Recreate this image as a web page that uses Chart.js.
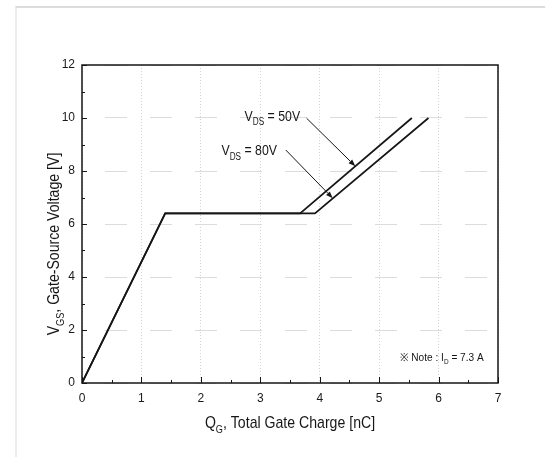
<!DOCTYPE html>
<html>
<head>
<meta charset="utf-8">
<script src="https://cdn.jsdelivr.net/npm/chart.js@4.4.1/dist/chart.umd.min.js"></script>
<style>
  html, body { margin: 0; padding: 0; background: #fff; }
  #wrap { position: relative; width: 545px; height: 457px; overflow: hidden; }
  #frame { position: absolute; left: 15px; top: 6px; right: 0; bottom: 0;
           border-top: 2px solid #dcdcdc; border-left: 2px solid #ececec; }
  #gatechart { position: absolute; left: 0; top: 0; }
</style>
</head>
<body>
<div id="wrap">
  <div id="frame"></div>
  <canvas id="gatechart" width="545" height="457"></canvas>
</div>
<script>
// gate charge curves, Q_G in nC and V_GS in V
const chargeNc50 = [0, 1.4, 3.67, 5.55];
const gateV50 = [0, 6.4, 6.4, 10];
const chargeNc80 = [0, 1.4, 3.92, 5.83];
const gateV80 = [0, 6.4, 6.4, 10];
const seriesNames = ['VDS = 50V', 'VDS = 80V'];
const xTicks = [0, 1, 2, 3, 4, 5, 6, 7];
const yTicks = [0, 2, 4, 6, 8, 10, 12];

const FONT = '"Liberation Sans", Arial, Helvetica, sans-serif';
const INK = '#161616';

function toPoints(xs, ys) {
    return xs.map((x, i) => ({x: x, y: ys[i]}));
}

// text with subscripts, condensed like the datasheet font
// parts: [[text, isSub], ...]
function drawRich(ctx, parts, x, y, size, squeeze, align, rotate) {
    const subSize = Math.round(size * 0.64);
    let w = 0;
    parts.forEach(p => {
        ctx.font = (p[1] ? subSize : size) + 'px ' + FONT;
        w += ctx.measureText(p[0]).width;
    });
    ctx.save();
    ctx.translate(x, y);
    if (rotate) ctx.rotate(-Math.PI / 2);
    ctx.scale(squeeze, 1);
    let cx = align === 'center' ? -w / 2 : (align === 'right' ? -w : 0);
    ctx.fillStyle = INK;
    ctx.textBaseline = 'alphabetic';
    ctx.textAlign = 'left';
    parts.forEach(p => {
        ctx.font = (p[1] ? subSize : size) + 'px ' + FONT;
        ctx.fillText(p[0], cx, p[1] ? size * 0.3 : 0);
        cx += ctx.measureText(p[0]).width;
    });
    ctx.restore();
}

function drawArrow(ctx, x1, y1, x2, y2) {
    const a = Math.atan2(y2 - y1, x2 - x1);
    const hl = 7, hw = 2.6;
    ctx.save();
    ctx.strokeStyle = INK;
    ctx.fillStyle = INK;
    ctx.lineWidth = 1;
    ctx.beginPath();
    ctx.moveTo(x1, y1);
    ctx.lineTo(x2 - hl * Math.cos(a), y2 - hl * Math.sin(a));
    ctx.stroke();
    ctx.beginPath();
    ctx.moveTo(x2, y2);
    ctx.lineTo(x2 - hl * Math.cos(a) + hw * Math.sin(a), y2 - hl * Math.sin(a) - hw * Math.cos(a));
    ctx.lineTo(x2 - hl * Math.cos(a) - hw * Math.sin(a), y2 - hl * Math.sin(a) + hw * Math.cos(a));
    ctx.closePath();
    ctx.fill();
    ctx.restore();
}

// plot box, inward ticks, axis titles and callouts
const decorPlugin = {
    id: 'decor',
    afterDatasetsDraw(chart) {
        const ctx = chart.ctx;
        const {left, right, top, bottom} = chart.chartArea;
        const sx = chart.scales.x, sy = chart.scales.y;

        ctx.save();
        ctx.strokeStyle = INK;
        ctx.lineWidth = 1;
        ctx.beginPath();
        for (let v = 0; v <= 7; v += 0.5) {
            const px = Math.round(sx.getPixelForValue(v)) + 0.5;
            const len = Number.isInteger(v) ? 6 : 3;
            ctx.moveTo(px, bottom);
            ctx.lineTo(px, bottom - len);
        }
        for (let v = 0; v <= 12; v += 1) {
            const py = Math.round(sy.getPixelForValue(v)) + 0.5;
            const len = v % 2 === 0 ? 5 : 3;
            ctx.moveTo(left, py);
            ctx.lineTo(left + len, py);
        }
        ctx.stroke();
        ctx.lineWidth = 1.5;
        ctx.strokeRect(left, top, right - left, bottom - top);
        ctx.restore();

        // axis titles
        drawRich(ctx, [['Q', false], ['G', true], [', Total Gate Charge [nC]', false]],
            (left + right) / 2, 428, 17, 0.83, 'center', false);
        drawRich(ctx, [['V', false], ['GS', true], [', Gate-Source Voltage [V]', false]],
            59, 244, 17, 0.83, 'center', true);

        // callouts for the two drain voltages
        drawArrow(ctx, sx.getPixelForValue(3.78), sy.getPixelForValue(9.99),
            sx.getPixelForValue(4.6), sy.getPixelForValue(8.18));
        drawArrow(ctx, sx.getPixelForValue(3.43), sy.getPixelForValue(8.79),
            sx.getPixelForValue(4.22), sy.getPixelForValue(6.97));
        drawRich(ctx, [['V', false], ['DS', true], [' = 50V', false]],
            sx.getPixelForValue(3.67), sy.getPixelForValue(9.89), 15, 0.82, 'right', false);
        drawRich(ctx, [['V', false], ['DS', true], [' = 80V', false]],
            sx.getPixelForValue(3.28), sy.getPixelForValue(8.6), 15, 0.82, 'right', false);

        drawRich(ctx, [['\u203B Note : I', false], ['D', true], [' = 7.3 A', false]],
            sx.getPixelForValue(6.76), sy.getPixelForValue(0.83), 11, 0.92, 'right', false);
    }
};

new Chart(document.getElementById('gatechart').getContext('2d'), {
    type: 'line',
    data: {
        datasets: [
            {label: seriesNames[0], data: toPoints(chargeNc50, gateV50)},
            {label: seriesNames[1], data: toPoints(chargeNc80, gateV80)}
        ].map(d => Object.assign(d, {
            borderColor: INK, backgroundColor: INK, borderWidth: 1.7,
            pointRadius: 0, tension: 0, fill: false
        }))
    },
    options: {
        responsive: false,
        animation: false,
        layout: {padding: {top: 65, right: 47, left: 0, bottom: 0}},
        plugins: {legend: {display: false}, tooltip: {enabled: false}},
        scales: {
            x: {
                type: 'linear', min: 0, max: 7,
                afterBuildTicks: s => { s.ticks = xTicks.map(v => ({value: v})); },
                afterFit: s => { s.height = 74; },
                ticks: {color: '#1a1a1a', font: {family: FONT, size: 12}, padding: 8, maxRotation: 0},
                grid: {color: '#d4d4d4', lineWidth: 1, drawTicks: false},
                border: {display: false, dash: [1, 2]}
            },
            y: {
                type: 'linear', min: 0, max: 12,
                afterBuildTicks: s => { s.ticks = yTicks.map(v => ({value: v})); },
                afterFit: s => { s.width = 82; },
                ticks: {color: '#1a1a1a', font: {family: FONT, size: 12}, padding: 7},
                grid: {color: '#dcdcdc', lineWidth: 1, drawTicks: false},
                border: {display: false, dash: [22, 23], dashOffset: 22}
            }
        }
    },
    plugins: [decorPlugin]
});
</script>
</body>
</html>
